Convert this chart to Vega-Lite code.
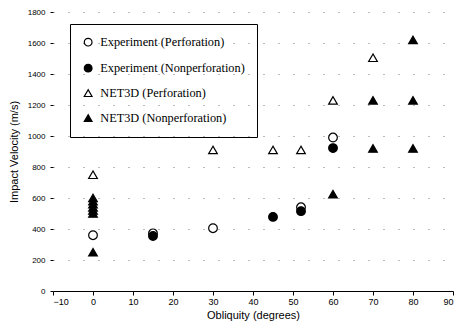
{
  "$schema": "https://vega.github.io/schema/vega-lite/v6.json",
  "width": 400,
  "height": 279,
  "autosize": {"type": "none"},
  "padding": {"left": 53, "top": 12, "right": 6, "bottom": 35},
  "background": "white",
  "config": {"view": {"stroke": null},
    "legend": {"title": null, "orient": "none", "legendX": 17, "legendY": 12,
        "strokeColor": "black", "padding": 12, "rowPadding": 12,
        "symbolSize": 60, "labelOffset": 6,
        "labelFont": "Liberation Serif", "labelFontSize": 12.3, "labelColor": "black", "symbolStrokeWidth": 1.2}},
  "data": {"values": [
    {"obliquity": 0, "velocity": 360, "series": "Experiment (Perforation)"},
    {"obliquity": 15, "velocity": 372, "series": "Experiment (Perforation)"},
    {"obliquity": 30, "velocity": 405, "series": "Experiment (Perforation)"},
    {"obliquity": 52, "velocity": 540, "series": "Experiment (Perforation)"},
    {"obliquity": 60, "velocity": 990, "series": "Experiment (Perforation)"},
    {"obliquity": 15, "velocity": 355, "series": "Experiment (Nonperforation)"},
    {"obliquity": 45, "velocity": 478, "series": "Experiment (Nonperforation)"},
    {"obliquity": 52, "velocity": 515, "series": "Experiment (Nonperforation)"},
    {"obliquity": 60, "velocity": 922, "series": "Experiment (Nonperforation)"},
    {"obliquity": 0, "velocity": 750, "series": "NET3D (Perforation)"},
    {"obliquity": 30, "velocity": 910, "series": "NET3D (Perforation)"},
    {"obliquity": 45, "velocity": 910, "series": "NET3D (Perforation)"},
    {"obliquity": 52, "velocity": 910, "series": "NET3D (Perforation)"},
    {"obliquity": 60, "velocity": 1230, "series": "NET3D (Perforation)"},
    {"obliquity": 70, "velocity": 1505, "series": "NET3D (Perforation)"},
    {"obliquity": 0, "velocity": 250, "series": "NET3D (Nonperforation)"},
    {"obliquity": 0, "velocity": 500, "series": "NET3D (Nonperforation)"},
    {"obliquity": 0, "velocity": 520, "series": "NET3D (Nonperforation)"},
    {"obliquity": 0, "velocity": 540, "series": "NET3D (Nonperforation)"},
    {"obliquity": 0, "velocity": 560, "series": "NET3D (Nonperforation)"},
    {"obliquity": 0, "velocity": 580, "series": "NET3D (Nonperforation)"},
    {"obliquity": 0, "velocity": 600, "series": "NET3D (Nonperforation)"},
    {"obliquity": 60, "velocity": 625, "series": "NET3D (Nonperforation)"},
    {"obliquity": 70, "velocity": 920, "series": "NET3D (Nonperforation)"},
    {"obliquity": 70, "velocity": 1230, "series": "NET3D (Nonperforation)"},
    {"obliquity": 80, "velocity": 920, "series": "NET3D (Nonperforation)"},
    {"obliquity": 80, "velocity": 1230, "series": "NET3D (Nonperforation)"},
    {"obliquity": 80, "velocity": 1620, "series": "NET3D (Nonperforation)"}
  ]},
  "mark": {"type": "point", "filled": true, "strokeWidth": 1.2, "opacity": 1, "size": 75, "fillOpacity": 1, "strokeOpacity": 1},
  "encoding": {
    "x": {"field": "obliquity", "type": "quantitative",
      "scale": {"domain": [-10, 90], "nice": false},
      "axis": {"values": [-10,0,10,20,30,40,50,60,70,80,90], "title": "Obliquity (degrees)",
        "titleFont": "Liberation Sans", "titleFontWeight": "normal", "titleFontSize": 11, "titleColor": "black", "titlePadding": 3,
        "labelFont": "Liberation Sans", "labelFontSize": 9, "labelColor": "black",
        "domainColor": "black", "domainWidth": 1.2, "tickColor": "black", "tickSize": 4,
        "grid": false}},
    "y": {"field": "velocity", "type": "quantitative",
      "scale": {"domain": [0, 1800], "nice": false},
      "axis": {"values": [0,200,400,600,800,1000,1200,1400,1600,1800], "title": "Impact Velocity (m/s)", "format": "d",
        "titleFont": "Liberation Sans", "titleFontWeight": "normal", "titleFontSize": 11, "titleColor": "black", "titlePadding": 8,
        "labelFont": "Liberation Sans", "labelFontSize": 8, "labelColor": "black", "labelPadding": 5,
        "domain": false, "tickColor": "black", "tickSize": 3,
        "grid": true, "gridColor": "#777", "gridDash": [1, 14], "gridWidth": 1}},
    "stroke": {"field": "series", "type": "nominal",
      "scale": {"domain": ["Experiment (Perforation)", "Experiment (Nonperforation)", "NET3D (Perforation)", "NET3D (Nonperforation)"],
        "range": ["black", "black", "black", "black"]}},
    "shape": {"field": "series", "type": "nominal",
      "scale": {"domain": ["Experiment (Perforation)", "Experiment (Nonperforation)", "NET3D (Perforation)", "NET3D (Nonperforation)"],
        "range": ["circle", "circle", "triangle-up", "triangle-up"]}},
    "fill": {"field": "series", "type": "nominal",
      "scale": {"domain": ["Experiment (Perforation)", "Experiment (Nonperforation)", "NET3D (Perforation)", "NET3D (Nonperforation)"],
        "range": ["white", "black", "white", "black"]}}
  }
}
